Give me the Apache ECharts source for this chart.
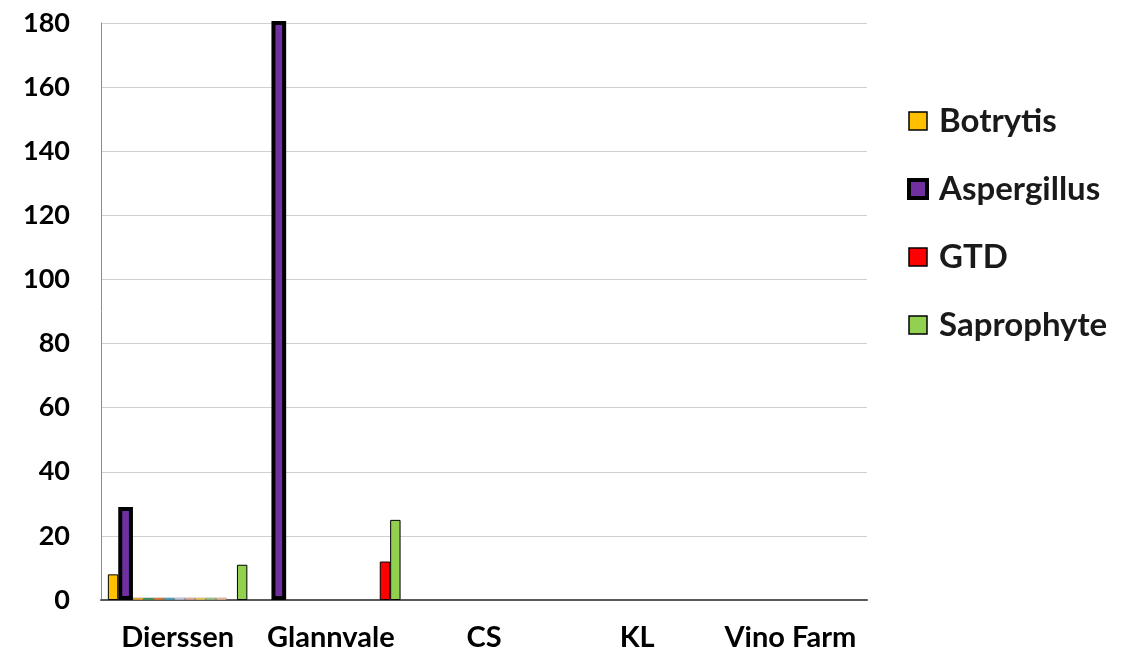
<!DOCTYPE html>
<html>
<head>
<meta charset="utf-8">
<script src="https://cdn.jsdelivr.net/npm/echarts@6/dist/echarts.min.js"></script>
<style>
  html, body { margin: 0; padding: 0; background: #fff; }
  #chart { width: 1142px; height: 653px; }
</style>
</head>
<body>
<div id="chart"></div>
<script>
// Vineyard sites along the x axis
const sites = ['Dierssen', 'Glannvale', 'CS', 'KL', 'Vino Farm'];

// Counts per site (null = nothing recorded)
const botrytis    = [8,    null, null, null, null];
const aspergillus = [29,   190,  null, null, null];
const gtd         = [null, 12,   null, null, null];
const saprophyte  = [11,   25,   null, null, null];

// Minor groups recorded only at Dierssen (not listed in the legend)
const minorNames  = ['Penicillium', 'Cladosporium', 'Alternaria', 'Rhizopus', 'Mucor',
                     'Fusarium', 'Trichoderma', 'Epicoccum', 'Aureobasidium'];
const minorValues = [
  [0.7, null, null, null, null],
  [0.7, null, null, null, null],
  [0.7, null, null, null, null],
  [0.7, null, null, null, null],
  [0.7, null, null, null, null],
  [0.7, null, null, null, null],
  [0.7, null, null, null, null],
  [0.7, null, null, null, null],
  [0.7, null, null, null, null]
];
const minorColors = ['#F4B12E', '#3E9B62', '#ED7D31', '#4BACC6', '#C9D3EC',
                     '#F4B6A8', '#FFD966', '#A9D18E', '#F8C6A0'];

const yTicks = { min: 0, max: 180, interval: 20 };

const FONT = 'Lato, "Open Sans", sans-serif';
const BAR_W = 10.4;       // regular bar width
const BAR_W_HEAVY = 14.7; // Aspergillus: room for its thick outline

function barSeries(name, data, color, borderWidth, borderColor, barWidth) {
  return {
    name: name,
    type: 'bar',
    data: data,
    barGap: '0%',
    barWidth: barWidth || BAR_W,
    clip: true,
    itemStyle: { color: color, borderColor: borderColor || '#000', borderWidth: borderWidth }
  };
}

const series = [
  barSeries('Botrytis', botrytis, '#FFC000', 1),
  barSeries('Aspergillus', aspergillus, '#7030A0', 4, '#000', BAR_W_HEAVY)
];
minorNames.forEach((n, i) => series.push(barSeries(n, minorValues[i], minorColors[i], 0.3, '#555')));
series.push(barSeries('GTD', gtd, '#FF0000', 1));
series.push(barSeries('Saprophyte', saprophyte, '#92D050', 1));

const chart = echarts.init(document.getElementById('chart'), null, { renderer: 'canvas' });
chart.setOption({
  animation: false,
  backgroundColor: '#fff',
  grid: { left: 101, right: 275, top: 23, bottom: 53, containLabel: false },
  legend: {
    orient: 'vertical',
    left: 902,
    top: 99,
    icon: 'rect',
    itemWidth: 18,
    itemHeight: 18,
    itemGap: 34,
    textStyle: { fontFamily: FONT, fontWeight: 'bold', fontSize: 33, color: '#1a1a1a', lineHeight: 34, padding: [0, 0, 0, 7] },
    data: [
      { name: 'Botrytis', itemStyle: { borderColor: '#000', borderWidth: 1.5 } },
      { name: 'Aspergillus', itemStyle: { borderColor: '#000', borderWidth: 4 } },
      { name: 'GTD', itemStyle: { borderColor: '#000', borderWidth: 1.5 } },
      { name: 'Saprophyte', itemStyle: { borderColor: '#000', borderWidth: 1.5 } }
    ]
  },
  xAxis: {
    type: 'category',
    data: sites,
    axisLine: { lineStyle: { color: '#595959', width: 2 } },
    axisTick: { show: false },
    axisLabel: { interval: 0, fontFamily: FONT, fontWeight: 'bold', fontSize: 29, color: '#000', margin: 23 }
  },
  yAxis: {
    type: 'value',
    min: yTicks.min,
    max: yTicks.max,
    interval: yTicks.interval,
    axisLine: { show: true, lineStyle: { color: '#8c8c8c', width: 1 } },
    axisTick: { show: false },
    splitLine: { lineStyle: { color: '#d0d0d0', width: 1 } },
    axisLabel: { fontFamily: FONT, fontWeight: 'bold', fontSize: 27, color: '#000', margin: 31 }
  },
  series: series
});
</script>
</body>
</html>
